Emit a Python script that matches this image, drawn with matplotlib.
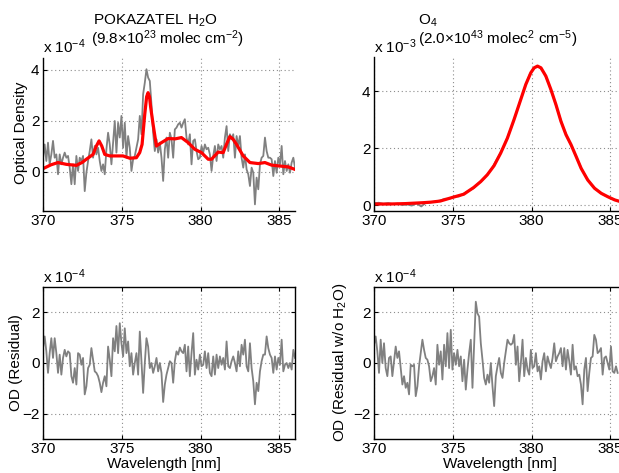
import numpy as np
import matplotlib
matplotlib.use("Agg")
import matplotlib.pyplot as plt

plt.rcParams['font.family'] = ['Liberation Sans', 'DejaVu Sans']
plt.rcParams['mathtext.fontset'] = 'custom'
plt.rcParams['mathtext.rm'] = 'Liberation Sans'
plt.rcParams['mathtext.it'] = 'Liberation Sans'
plt.rcParams['font.size'] = 11

# spectrometer sampling grid (nm)
wavelength = np.linspace(370, 386, 152)

# H2O: measured OD (grey, x1e-4)
h2o_meas = [0.56, 1.08, 0.43, 1.15, 0.30, 0.69, 1.22, 0.56, 0.69, -0.09, 0.69, 0.30, 0.56, 0.76, 0.56, 0.63,
            0.17, -0.48, 0.30, -0.48, 0.63, 0.04, 0.56, 0.43, 0.63, -0.75, -0.03, 0.43, 0.82, 1.28, 0.56, 1.02,
            0.69, 0.95, 0.43, 0.04, 0.30, -0.09, 0.89, 1.54, 1.08, 0.30, 1.15, 2.00, 0.76, 1.93, 1.35, 2.20,
            0.95, 1.93, 0.56, 1.41, 0.95, 0.04, 0.50, 0.63, 0.95, 1.28, 2.20, 1.48, 3.05, 3.50, 4.03, 3.70,
            3.57, 2.65, 1.54, 0.82, 1.28, 0.76, 1.15, 0.56, -0.35, 0.89, 1.35, 0.56, 1.54,
            1.28, 0.56, 1.67, 1.74, 1.87, 1.93, 1.74, 1.93, 2.07, 1.35, 1.08, 1.48, 0.30, 1.22, 1.28, 0.82,
            0.50, 0.56, 1.02, 0.76, 1.08, 0.89, 0.95, 0.69, 0.04, 0.63, 1.02, 0.43, 1.08, 0.89, 1.02, 0.56,
            1.35, 1.80, 0.82, 1.48, 1.28, 1.48, 0.56, 1.41, 1.02, 1.41, 0.56, 0.17, 0.69, 0.10, -0.09, -0.55,
            0.17, -0.03, -1.27, -0.22, -0.68, 0.30, 0.56, 0.63, 1.35, 0.82, 0.56, 0.56, 0.50, -0.16, 0.43, -0.03,
            0.56, 0.30, 1.02, -0.09, 0.43, 0.04, 0.30, -0.03, 0.37, 0.56, 0.17]

# H2O: fitted cross-section (red, x1e-4)
h2o_fit_wl = [370.00, 370.50, 370.95, 371.48, 372.12, 372.50, 372.75, 373.18, 373.39, 373.56, 373.73, 373.92,
              374.24, 375.08, 375.51, 375.93, 376.14, 376.29, 376.46, 376.58, 376.67, 376.76, 376.84, 376.99,
              377.20, 377.52, 377.94, 378.40, 378.79, 379.22, 379.64, 380.06, 380.49, 380.70, 381.12, 381.44,
              381.66, 381.86, 382.05, 382.29, 382.71, 383.14, 383.67, 384.09, 384.51, 384.94, 385.57, 386.00]
h2o_fit = [0.13, 0.28, 0.37, 0.30, 0.26, 0.38, 0.50, 0.69, 1.02, 1.22, 1.02, 0.69,
           0.63, 0.63, 0.54, 0.56, 0.76, 1.08, 2.26, 2.95, 3.11, 2.95, 2.52, 1.87,
           1.02, 1.15, 1.31, 1.30, 1.35, 1.15, 0.89, 0.76, 0.50, 0.50, 0.78, 0.76,
           1.10, 1.39, 1.30, 1.08, 0.63, 0.37, 0.33, 0.37, 0.27, 0.24, 0.20, 0.10]

# O4: measured (grey) and fitted (red), x1e-3
o4_meas_wl = [370.0, 370.3, 370.6, 370.9, 371.2, 371.5, 371.8, 372.1, 372.4, 372.7, 373.0, 373.3, 373.6,
              373.9, 374.2, 374.5, 374.8, 375.1, 375.4, 375.7, 376.0, 376.3, 376.6, 376.9, 377.2, 377.5,
              377.8, 378.1, 378.4, 378.7, 379.0, 379.3, 379.6, 379.9, 380.2, 380.5, 380.8, 381.1, 381.4,
              381.7, 382.0, 382.3, 382.6, 382.9, 383.2, 383.5, 383.8, 384.1, 384.4, 384.7, 385.0, 385.3,
              385.6, 385.9]
o4_meas = [0.06, 0.08, 0.04, 0.07, 0.03, 0.05, 0.00, 0.02, -0.02, 0.06, -0.05, 0.08, 0.10,
           0.12, 0.16, 0.22, 0.22, 0.30, 0.30, 0.40, 0.50, 0.58, 0.75, 0.88, 1.07, 1.30,
           1.60, 1.90, 2.27, 2.70, 3.18, 3.68, 4.18, 4.60, 4.84, 4.85, 4.65, 4.25, 3.78,
           3.25, 2.75, 2.35, 2.00, 1.62, 1.25, 0.95, 0.72, 0.55, 0.42, 0.33, 0.25, 0.18,
           0.13, 0.09]
o4_fit_wl = [370.01, 370.93, 371.99, 373.06, 373.60, 374.21, 375.00, 375.70, 376.34, 376.77, 377.19, 377.62,
             378.04, 378.47, 378.89, 379.32, 379.64, 379.96, 380.17, 380.38, 380.60, 380.91, 381.23, 381.55,
             381.87, 382.19, 382.51, 382.83, 383.15, 383.57, 384.00, 384.43, 384.85, 385.28, 385.64, 386.00]
o4_fit = [0.035, 0.035, 0.05, 0.08, 0.10, 0.14, 0.27, 0.38, 0.62, 0.82, 1.06, 1.38,
          1.82, 2.35, 3.00, 3.71, 4.24, 4.65, 4.82, 4.88, 4.82, 4.53, 4.06, 3.53,
          2.94, 2.47, 2.12, 1.71, 1.29, 0.88, 0.59, 0.41, 0.29, 0.18, 0.12, 0.08]

# residual (x1e-4)
residual = [0.59, 1.05, 0.46, -0.39, 0.39, 0.98, 0.20, 0.98, 0.39, -0.39, 0.33, -0.46, 0.20, 0.52, 0.26, 0.46,
            0.39, -0.52, -0.78, -0.20, -0.85, 0.39, 0.33, -0.07, 0.20, -1.24, -0.92, -0.20, -0.07, 0.59, 0.13,
            -0.33, -0.39, -0.52, -0.78, -1.15, -0.78, -0.52, -0.92, 0.65, 0.13, -0.52, 0.98, 0.46, 1.46, 0.39,
            1.57, 0.78, 0.26, 1.37, 0.39, 0.85, -0.13, 0.39, -0.46, 0.00, 0.39, -0.46, 1.24, 0.07, -1.18, 0.00,
            0.98, 0.65, -0.20, 0.00, -0.39, -0.13, 0.20, -0.33, 0.00, -0.39, -1.54, -0.85, -0.46, -0.20, 0.07,
            0.00, -0.78, 0.07, 0.46, 0.33, 0.61, 0.46, 0.39, 0.72, -0.33, 0.65, -0.52, 0.39, 1.18, -0.46, 0.13,
            -0.26, 0.33, -0.13, -0.07, 0.46, -0.20, 0.39, -0.39, -0.52, 0.26, -0.46, 0.33, -0.20, 0.26, -0.07,
            0.20, -0.26, 0.85, -0.13, -0.20, 0.07, 0.26, 0.00, -0.33, 0.46, -0.13, 0.72, 0.33, 0.92, -0.13,
            -0.33, 0.78, -0.20, -0.72, -1.63, -0.78, -1.11, -0.33, 0.07, 0.33, 0.33, 1.05, 0.59, 0.33, 0.20,
            -0.39, 0.26, -0.26, 0.20, -0.07, 0.92, -0.33, -0.07, 0.00, -0.20, 0.00, -0.26, 0.52, 0.20]

# residual without H2O (x1e-4)
residual_no_h2o = [0.72, 1.05, 0.46, -0.39, 0.92, 0.00, 0.78, -0.20, -0.52, 0.20, 0.26, -0.52, 0.07, 0.65, 0.20,
                   0.46, -0.20, -0.85, -0.52, -0.98, -0.78, -1.24, -0.07, -0.13, -0.07, -1.31, -0.92, -0.13, 0.39,
                   0.92, 0.52, 0.20, 0.13, -0.13, -0.72, -0.52, -0.20, -0.85, 0.72, -0.07, 0.46, -0.65, 0.72,
                   -0.13, 1.18, -0.20, 1.31, -0.26, 0.39, -0.07, 0.52, -0.13, 0.26, -0.72, 0.13, -1.05, -0.26,
                   0.39, 0.92, -0.98, 0.72, 2.42, 1.96, 1.83, 0.78, 0.13, -0.59, -0.85, -0.46, -0.78, 0.00,
                   -0.92, -1.70, -0.52, -0.13,
                   0.20, -0.39, -0.59, 0.00, 0.46, 0.92, 0.78, 0.72, 0.78, 1.11, -0.07, 0.65, -0.72, 0.00, 0.92,
                   -0.52, 0.20, -0.26, -0.46, 0.52, -0.20, -0.13, 0.39, -0.33, -0.13, -0.65, 0.07, 0.39, -0.33,
                   0.26, 0.00, -0.20, 0.20, 0.78, 0.07, 0.26, 0.39, 0.59, -0.13, 0.59, -0.26, 0.52, 0.07, -0.46,
                   0.72, -0.26, -0.13, -0.52, -0.46, -0.85, -1.63, -0.26, 0.20, -1.11, -0.39, 0.20, 0.26, 1.11,
                   0.92, 0.39, 0.46, 0.59, -0.46, 0.20, 0.26, 0.00, -0.26, 0.65, -0.33, -0.39, -0.13, -0.39]

xticks = [370, 375, 380, 385]
grey = '#808080'
W, H = 619, 473

fig = plt.figure(figsize=(W / 100, H / 100), dpi=100)


def setup(ax, ylim, yticks, box):
    ax.set_xlim(370, 386)
    ax.set_ylim(*ylim)
    ax.set_xticks(xticks)
    ax.set_yticks(yticks)
    ax.grid(True, color='0.55', linestyle=(0, (1, 2.5)), linewidth=0.8)
    ax.tick_params(direction='in', length=3, width=0.8, pad=2.5, labelsize=11,
                   top=box, right=box)
    for s in ax.spines.values():
        s.set_linewidth(1.0)
    if not box:
        ax.spines['top'].set_visible(False)
        ax.spines['right'].set_visible(False)


def ftext(x, y, s, **kw):
    fig.text(x / W, 1 - y / H, s, **kw)


ax1 = fig.add_axes([43 / W, 1 - 211 / H, 252 / W, 153 / H])
ax1.plot(wavelength, h2o_meas, color=grey, lw=1.3)
ax1.plot(h2o_fit_wl, h2o_fit, color='red', lw=2.3)
setup(ax1, (-1.53, 4.47), [0, 2, 4], False)

ax2 = fig.add_axes([374 / W, 1 - 211 / H, 252 / W, 154 / H])
ax2.plot(o4_meas_wl, o4_meas, color=grey, lw=1.3)
ax2.plot(o4_fit_wl, o4_fit, color='red', lw=2.3)
setup(ax2, (-0.21, 5.2), [0, 2, 4], False)

ax3 = fig.add_axes([43 / W, 1 - 439 / H, 252 / W, 152 / H])
ax3.plot(wavelength, residual, color=grey, lw=1.3)
setup(ax3, (-3, 3), [-2, 0, 2], True)

ax4 = fig.add_axes([374 / W, 1 - 439 / H, 252 / W, 152 / H])
ax4.plot(wavelength[:len(residual_no_h2o)], residual_no_h2o, color=grey, lw=1.3)
setup(ax4, (-3, 3), [-2, 0, 2], True)

# titles and exponent labels
ftext(93, 25, r'POKAZATEL H$_2$O', va='baseline')
ftext(91, 44, r'(9.8$\times$10$^{23}$ molec cm$^{-2}$)', va='baseline')
ftext(43, 53, r'x 10$^{-4}$', va='baseline')
ftext(418, 25, r'O$_4$', va='baseline')
ftext(418, 44, r'(2.0$\times$10$^{43}$ molec$^2$ cm$^{-5}$)', va='baseline')
ftext(374, 53, r'x 10$^{-3}$', va='baseline')
ftext(43, 283, r'x 10$^{-4}$', va='baseline')
ftext(374, 283, r'x 10$^{-4}$', va='baseline')

# axis labels
ftext(21, 133, 'Optical Density', rotation=90, ha='center', va='center')
ftext(16, 363, 'OD (Residual)', rotation=90, ha='center', va='center')
ftext(340, 362, r'OD (Residual w/o H$_2$O)', rotation=90, ha='center', va='center')
ftext(164, 468, 'Wavelength [nm]', ha='center', va='baseline')
ftext(500, 468, 'Wavelength [nm]', ha='center', va='baseline')

fig.savefig('out.png', dpi=100)
